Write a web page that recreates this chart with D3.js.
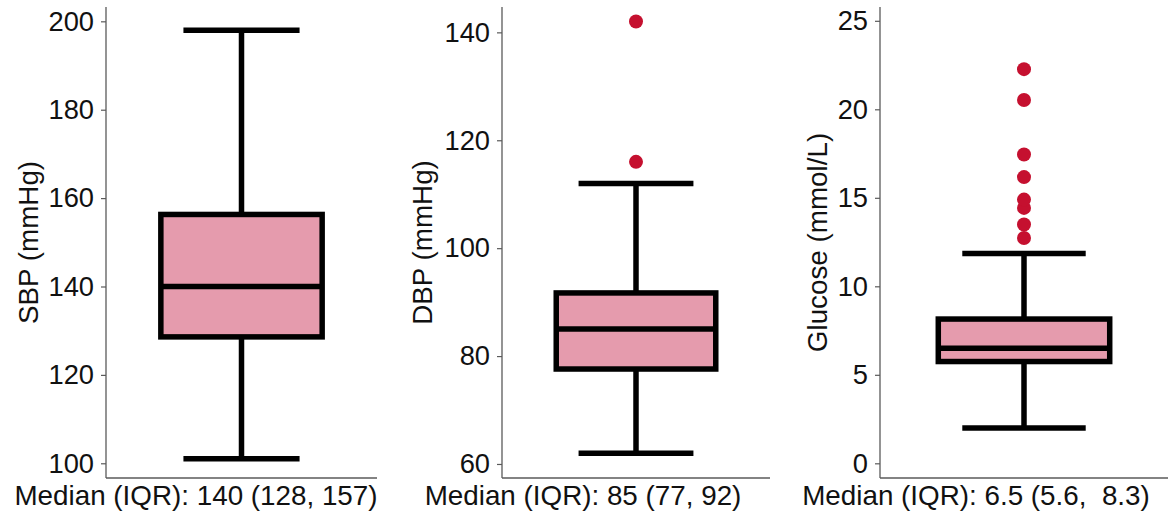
<!DOCTYPE html>
<html>
<head>
<meta charset="utf-8">
<script src="https://cdn.jsdelivr.net/npm/d3@7"></script>
<style>
  html, body { margin: 0; padding: 0; background: #fff; }
  svg { display: block; font-family: "Liberation Sans", Arial, sans-serif; }
  text { white-space: pre; }
</style>
</head>
<body>
<svg id="chart" width="1168" height="514"></svg>
<script>
// ---- data ----
const yTitles = ["SBP (mmHg)", "DBP (mmHg)", "Glucose (mmol/L)"];
const whiskerLow = [101, 62, 2.0];
const q1 = [128.6, 77.6, 5.75];
const median = [140, 85, 6.5];
const q3 = [156.3, 91.7, 8.15];
const whiskerHigh = [198, 112, 11.85];
const outliers = [
  [],
  [116, 142],
  [12.73, 13.49, 14.43, 14.9, 16.17, 17.45, 20.53, 22.27]
];
const yDomains = [[96.67, 203.24], [57.4, 144.7], [-0.83, 25.78]];
const tickValues = [
  [100, 120, 140, 160, 180, 200],
  [60, 80, 100, 120, 140],
  [0, 5, 10, 15, 20, 25]
];
const summaryLabels = [
  "Median (IQR): 140 (128, 157)",
  "Median (IQR): 85 (77, 92)",
  "Median (IQR): 6.5 (5.6,  8.3)"
];

// ---- layout ----
const plotLeft = [106, 502, 880];
const plotRight = [377, 770, 1168];
const titleX = [28, 422, 817];
const labelX = [196, 583, 976];
const plotTop = 7, plotBottom = 478;

const svg = d3.select("#chart");
const boxFill = "#e59bad";
const outlierColor = "#c5102f";
const axisColor = "#5a5a5a";
const tickFont = 27.3;
const textFont = 27.8;

yTitles.forEach((title, i) => {
  const g = svg.append("g");
  const y = d3.scaleLinear().domain(yDomains[i]).range([plotBottom, plotTop]);
  const x = d3.scaleBand().domain([title]).range([plotLeft[i], plotRight[i]]).paddingInner(0).paddingOuter(0.34);
  const cx = x(title) + x.bandwidth() / 2;
  const boxW = x.bandwidth();
  const capW = boxW * 0.72;

  // axes
  const yAxis = d3.axisLeft(y).tickValues(tickValues[i]).tickSize(5).tickPadding(7);
  const ag = g.append("g").attr("transform", `translate(${plotLeft[i]},0)`).call(yAxis);
  ag.select(".domain").attr("stroke", axisColor).attr("stroke-width", 1.3)
    .attr("d", `M0,${plotTop}V${plotBottom}`);
  ag.selectAll(".tick line").attr("stroke", axisColor).attr("stroke-width", 1.2);
  ag.selectAll(".tick text").attr("fill", "#111").attr("font-size", tickFont)
    .attr("font-family", "Liberation Sans, Arial, sans-serif");
  g.append("line")
    .attr("x1", plotLeft[i]).attr("x2", plotRight[i])
    .attr("y1", plotBottom).attr("y2", plotBottom)
    .attr("stroke", axisColor).attr("stroke-width", 1.3);

  // whiskers
  const sw = 5.5;
  g.append("line").attr("x1", cx).attr("x2", cx)
    .attr("y1", y(q3[i])).attr("y2", y(whiskerHigh[i]))
    .attr("stroke", "#000").attr("stroke-width", sw);
  g.append("line").attr("x1", cx).attr("x2", cx)
    .attr("y1", y(q1[i])).attr("y2", y(whiskerLow[i]))
    .attr("stroke", "#000").attr("stroke-width", sw);
  [whiskerLow[i], whiskerHigh[i]].forEach(v => {
    g.append("line").attr("x1", cx - capW / 2).attr("x2", cx + capW / 2)
      .attr("y1", y(v)).attr("y2", y(v))
      .attr("stroke", "#000").attr("stroke-width", sw);
  });

  // box
  g.append("rect")
    .attr("x", cx - boxW / 2).attr("width", boxW)
    .attr("y", y(q3[i])).attr("height", y(q1[i]) - y(q3[i]))
    .attr("fill", boxFill).attr("stroke", "#000").attr("stroke-width", sw);
  g.append("line").attr("x1", cx - boxW / 2).attr("x2", cx + boxW / 2)
    .attr("y1", y(median[i])).attr("y2", y(median[i]))
    .attr("stroke", "#000").attr("stroke-width", sw);

  // outliers
  g.selectAll("circle.out").data(outliers[i]).join("circle")
    .attr("class", "out")
    .attr("cx", cx).attr("cy", d => y(d)).attr("r", 7)
    .attr("fill", outlierColor);

  // y title
  g.append("text")
    .attr("transform", `translate(${titleX[i]},${(plotTop + plotBottom) / 2}) rotate(-90)`)
    .attr("text-anchor", "middle").attr("dominant-baseline", "central")
    .attr("font-size", textFont).attr("fill", "#111")
    .text(title);

  // bottom summary
  g.append("text")
    .attr("x", labelX[i]).attr("y", 505)
    .attr("text-anchor", "middle")
    .attr("font-size", textFont).attr("fill", "#111")
    .text(summaryLabels[i]);
});
</script>
</body>
</html>
